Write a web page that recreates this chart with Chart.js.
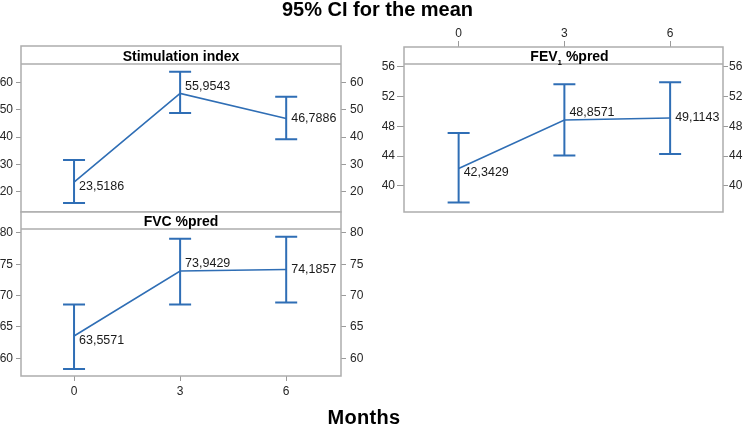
<!DOCTYPE html>
<html><head><meta charset="utf-8">
<script src="https://cdn.jsdelivr.net/npm/chart.js@4.4.1/dist/chart.umd.min.js"></script>
<style>
html,body{margin:0;padding:0;background:#fff;}
#wrap{position:relative;width:746px;height:426px;overflow:hidden;background:#fff;font-family:"Liberation Sans",Arial,sans-serif;}
canvas{position:absolute;left:0;top:0;}
#title{position:absolute;left:0;width:755px;top:-2px;text-align:center;font-weight:bold;font-size:20px;line-height:22px;color:#000;}
#xtitle{position:absolute;left:0;width:728px;top:406px;text-align:center;font-weight:bold;font-size:20px;line-height:22px;color:#000;letter-spacing:0.3px;}
</style></head>
<body>
<div id="wrap">
<canvas id="cSI" width="746" height="426"></canvas>
<canvas id="cFVC" width="746" height="426"></canvas>
<canvas id="cFEV" width="746" height="426"></canvas>
<div id="title">95% CI for the mean</div>
<div id="xtitle">Months</div>
</div>
<script>
// ---- data ----
const months = [0, 3, 6];
const monthTicks = [0, 3, 6];

const siMean  = [23.5186, 55.9543, 46.7886];
const siLower = [15.9, 48.8, 39.2];
const siUpper = [31.6, 63.9, 54.7];
const siTicks = [20, 30, 40, 50, 60];

const fvcMean  = [63.5571, 73.9429, 74.1857];
const fvcLower = [58.3, 68.6, 68.9];
const fvcUpper = [68.6, 79.1, 79.4];
const fvcTicks = [60, 65, 70, 75, 80];

const fevMean  = [42.3429, 48.8571, 49.1143];
const fevLower = [37.8, 44.1, 44.3];
const fevUpper = [47.1, 53.65, 53.9];
const fevTicks = [40, 44, 48, 52, 56];

// ---- style ----
const BLUE = '#2f6eb5';
const FRAME = '#adadad';
const TICKC = '#9a9a9a';
const LBL = '#262626';
const FONT = '"Liberation Sans", Arial, sans-serif';
const W = 746, H = 426;

const panelPlugin = {
  id: 'panel',
  afterDatasetsDraw(chart, args, opts) {
    const ctx = chart.ctx;
    const xs = chart.scales.x, ys = chart.scales.yL;
    const a = chart.chartArea;
    ctx.save();
    // error bars
    ctx.strokeStyle = BLUE;
    ctx.lineWidth = 2;
    for (let i = 0; i < opts.mean.length; i++) {
      const px = xs.getPixelForValue(months[i]);
      const yl = ys.getPixelForValue(opts.lower[i]);
      const yu = ys.getPixelForValue(opts.upper[i]);
      ctx.beginPath();
      ctx.moveTo(px, yl); ctx.lineTo(px, yu);
      ctx.moveTo(px - 11, yl); ctx.lineTo(px + 11, yl);
      ctx.moveTo(px - 11, yu); ctx.lineTo(px + 11, yu);
      ctx.stroke();
    }
    // header strip
    ctx.fillStyle = '#fff';
    ctx.fillRect(a.left, a.top, a.right - a.left, opts.headerH);
    ctx.strokeStyle = FRAME;
    ctx.lineWidth = 1.5;
    ctx.strokeRect(a.left, a.top, a.right - a.left, a.bottom - a.top);
    ctx.beginPath();
    ctx.moveTo(a.left, a.top + opts.headerH);
    ctx.lineTo(a.right, a.top + opts.headerH);
    ctx.stroke();
    // header text
    ctx.fillStyle = '#000';
    ctx.textBaseline = 'alphabetic';
    const by = a.top + opts.headerH - 3;
    const cx = (a.left + a.right) / 2 + (opts.headerShift || 0);
    ctx.font = 'bold 14px ' + FONT;
    if (opts.sub) {
      const w1 = ctx.measureText(opts.title).width;
      const w3 = ctx.measureText(opts.title2).width;
      ctx.font = 'bold 8px ' + FONT;
      const w2 = ctx.measureText(opts.sub).width;
      let x0 = cx - (w1 + w2 + w3) / 2;
      ctx.font = 'bold 14px ' + FONT;
      ctx.textAlign = 'left';
      ctx.fillText(opts.title, x0, by);
      ctx.font = 'bold 8px ' + FONT;
      ctx.fillText(opts.sub, x0 + w1, by + 4);
      ctx.font = 'bold 14px ' + FONT;
      ctx.fillText(opts.title2, x0 + w1 + w2, by);
    } else {
      ctx.textAlign = 'center';
      ctx.fillText(opts.title, cx, by);
    }
    // data labels
    ctx.font = '12.5px ' + FONT;
    ctx.fillStyle = '#1a1a1a';
    ctx.textAlign = 'left';
    ctx.textBaseline = 'middle';
    const dys = [4.5, -7, 0];
    for (let i = 0; i < opts.mean.length; i++) {
      const px = xs.getPixelForValue(months[i]);
      const py = ys.getPixelForValue(opts.mean[i]);
      ctx.fillText(opts.mean[i].toFixed(4).replace('.', ','), px + 5, py + dys[i]);
    }
    ctx.restore();
  }
};

function yAxis(pos, c, width, tl, pad) {
  return {
    type: 'linear', position: pos, min: c.yMin, max: c.yMax,
    afterBuildTicks: s => { s.ticks = c.ticks.map(v => ({ value: v })); },
    grid: { display: true, drawOnChartArea: false, drawTicks: true, tickLength: tl, color: TICKC, lineWidth: 1 },
    border: { display: false },
    ticks: { color: LBL, font: { size: 12, family: FONT }, padding: pad },
    afterFit: s => { s.width = width; s.paddingTop = 0; s.paddingBottom = 0; }
  };
}

function makePanel(id, c) {
  const xH = c.xPos ? c.xH : 0;
  const padding = {
    left: c.box.l - c.yLW,
    right: W - c.box.r - c.yRW,
    top: c.box.t - (c.xPos === 'top' ? xH : 0),
    bottom: H - c.box.b - (c.xPos === 'bottom' ? xH : 0)
  };
  return new Chart(document.getElementById(id), {
    type: 'line',
    data: {
      datasets: [{
        data: months.map((m, i) => ({ x: m, y: c.mean[i] })),
        borderColor: BLUE, borderWidth: 1.6, pointRadius: 0, tension: 0, fill: false,
        yAxisID: 'yL', xAxisID: 'x'
      }]
    },
    options: {
      responsive: false, animation: false, devicePixelRatio: 1,
      layout: { padding },
      plugins: {
        legend: { display: false }, tooltip: { enabled: false }, title: { display: false },
        panel: { mean: c.mean, lower: c.lower, upper: c.upper, headerH: c.headerH,
                 title: c.title, sub: c.sub, title2: c.title2, headerShift: c.headerShift }
      },
      scales: {
        x: {
          type: 'linear', position: c.xPos || 'bottom', display: !!c.xPos,
          min: c.xMin, max: c.xMax,
          afterBuildTicks: s => { s.ticks = monthTicks.map(v => ({ value: v })); },
          grid: { display: true, drawOnChartArea: false, drawTicks: true, tickLength: c.xTL || 5, color: TICKC },
          border: { display: false },
          ticks: { color: LBL, font: { size: 12, family: FONT }, padding: c.xPad, maxRotation: 0, autoSkip: false },
          afterFit: s => { s.height = xH; s.paddingLeft = 0; s.paddingRight = 0; }
        },
        yL: yAxis('left', c, c.yLW, c.lTL, c.lPad),
        yR: yAxis('right', c, c.yRW, c.rTL, c.rPad)
      }
    },
    plugins: [panelPlugin]
  });
}

makePanel('cSI', {
  mean: siMean, lower: siLower, upper: siUpper, ticks: siTicks,
  box: { l: 21, r: 341, t: 46, b: 212 }, headerH: 18, title: 'Stimulation index',
  yMin: 12.58, yMax: 73.27, xMin: -1.5, xMax: 7.55,
  yLW: 21, yRW: 40, lTL: 5, lPad: 3, rTL: 5, rPad: 4
});
makePanel('cFVC', {
  mean: fvcMean, lower: fvcLower, upper: fvcUpper, ticks: fvcTicks,
  box: { l: 21, r: 341, t: 212, b: 376 }, headerH: 17, title: 'FVC %pred',
  yMin: 57.18, yMax: 83.35, xMin: -1.5, xMax: 7.55,
  xPos: 'bottom', xH: 30, xTL: 5, xPad: 3,
  yLW: 21, yRW: 40, lTL: 5, lPad: 3, rTL: 5, rPad: 4
});
makePanel('cFEV', {
  mean: fevMean, lower: fevLower, upper: fevUpper, ticks: fevTicks,
  box: { l: 404, r: 723, t: 47, b: 212 }, headerH: 17, title: 'FEV', sub: '1', title2: ' %pred', headerShift: 6,
  yMin: 36.51, yMax: 58.64, xMin: -1.55, xMax: 7.5,
  xPos: 'top', xH: 25, xTL: 6, xPad: 0,
  yLW: 40, yRW: 23, lTL: 7, lPad: 2, rTL: 5, rPad: 1
});
</script>
</body></html>
